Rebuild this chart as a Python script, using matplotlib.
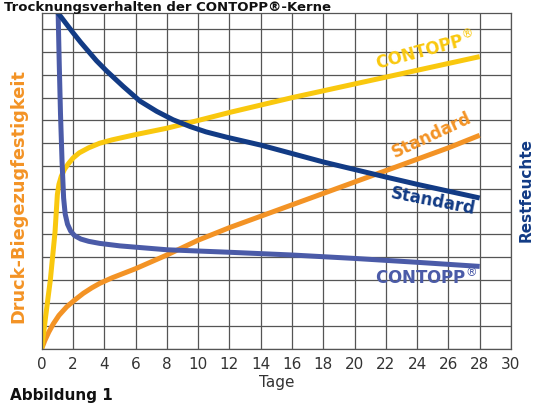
import numpy as np
import matplotlib.pyplot as plt

# Festigkeit (strength) curves
days_contopp = [0, 0.25, 0.55, 0.85, 1.0, 1.1, 1.25, 1.45, 1.7, 2.0, 2.4, 3.0, 3.7, 4.5, 6, 8, 10, 12, 16, 20, 24, 28]
festigkeit_contopp = [0, 1.4, 3.0, 5.1, 6.75, 7.2, 7.55, 7.85, 8.1, 8.35, 8.58, 8.8, 9.0, 9.15, 9.38, 9.66, 10.0, 10.35, 11.0, 11.6, 12.2, 12.8]

days_standard = [0, 0.2, 0.45, 0.74, 1.1, 1.6, 2.1, 2.66, 3.2, 3.72, 4.5, 6, 8, 10, 12, 14, 16, 18, 20, 22, 24, 26, 28]
festigkeit_standard = [0, 0.35, 0.72, 1.08, 1.45, 1.83, 2.12, 2.42, 2.66, 2.86, 3.1, 3.5, 4.1, 4.75, 5.3, 5.8, 6.3, 6.8, 7.3, 7.8, 8.3, 8.8, 9.35]

# Restfeuchte (residual moisture) curves
days_rf_standard = [1.0, 1.5, 2.0, 2.5, 3.0, 3.5, 4.15, 5.2, 6.28, 7.35, 8.4, 9.5, 10.5, 11.8, 14, 16, 18, 20, 22, 24, 26, 28]
restfeuchte_standard = [14.75, 14.3, 13.85, 13.42, 13.02, 12.62, 12.17, 11.5, 10.85, 10.4, 10.03, 9.73, 9.5, 9.27, 8.92, 8.55, 8.18, 7.85, 7.52, 7.2, 6.9, 6.6]

days_rf_contopp = [1.05, 1.12, 1.2, 1.3, 1.4, 1.5, 1.65, 1.85, 2.1, 2.5, 3.0, 3.7, 5, 8, 12, 16, 20, 24, 28]
restfeuchte_contopp = [14.7, 12.5, 10.3, 8.2, 6.6, 5.9, 5.45, 5.15, 4.95, 4.8, 4.7, 4.61, 4.5, 4.33, 4.22, 4.1, 3.95, 3.78, 3.6]

x_ticks = list(range(0, 31, 2))

YELLOW = '#F9C80E'
ORANGE = '#F39325'
NAVY = '#123B85'
BLUE = '#4B5BA8'

fig = plt.figure(figsize=(5.39, 4.05), dpi=100)
ax = fig.add_axes([0.0774, 0.1395, 0.8706, 0.8277])

ax.set_xlim(0, 30)
ax.set_ylim(0, 14.7)
ax.set_xticks(x_ticks)
ax.set_yticks(range(0, 15))
ax.set_yticklabels([])
ax.grid(True, color='#555555', linewidth=0.9)
ax.set_axisbelow(True)
ax.tick_params(axis='y', length=0)
ax.tick_params(axis='x', length=0, pad=6, labelsize=11, labelcolor='#333333')
for s in ax.spines.values():
    s.set_color('#555555')
    s.set_linewidth(0.9)

lw = 3.6
ax.plot(days_standard, festigkeit_standard, color=ORANGE, lw=lw, solid_capstyle='butt', solid_joinstyle='round')
ax.plot(days_contopp, festigkeit_contopp, color=YELLOW, lw=lw, solid_capstyle='butt', solid_joinstyle='round')
ax.plot(days_rf_contopp, restfeuchte_contopp, color=BLUE, lw=lw, solid_capstyle='butt', solid_joinstyle='round')
ax.plot(days_rf_standard, restfeuchte_standard, color=NAVY, lw=lw, solid_capstyle='butt', solid_joinstyle='round')

# curve labels
ax.text(24.5, 13.05, 'CONTOPP$^{®}$', color=YELLOW, fontsize=12, fontweight='bold',
        rotation=15, ha='center', va='center')
ax.text(24.9, 9.35, 'Standard', color=ORANGE, fontsize=12, fontweight='bold',
        rotation=25, ha='center', va='center')
ax.text(25.0, 6.45, 'Standard', color=NAVY, fontsize=12, fontweight='bold',
        rotation=-11, ha='center', va='center')
ax.text(24.6, 3.1, 'CONTOPP$^{®}$', color=BLUE, fontsize=12, fontweight='bold',
        ha='center', va='center')

ax.set_xlabel('Tage', fontsize=11, color='#333333', labelpad=2)
fig.text(0.034, 0.516, 'Druck-Biegezugfestigkeit', color=ORANGE, fontsize=12.8,
         fontweight='bold', rotation=90, ha='center', va='center')
fig.text(0.977, 0.53, 'Restfeuchte', color=NAVY, fontsize=11,
         fontweight='bold', rotation=90, ha='center', va='center')
fig.text(0.018, 0.004, 'Abbildung 1', color='#111111', fontsize=11,
         fontweight='bold', ha='left', va='bottom')
fig.text(0.008, 0.998, 'Trocknungsverhalten der CONTOPP®-Kerne', color='#111111',
         fontsize=9.5, fontweight='bold', ha='left', va='top')

fig.savefig('out.png', dpi=100)
